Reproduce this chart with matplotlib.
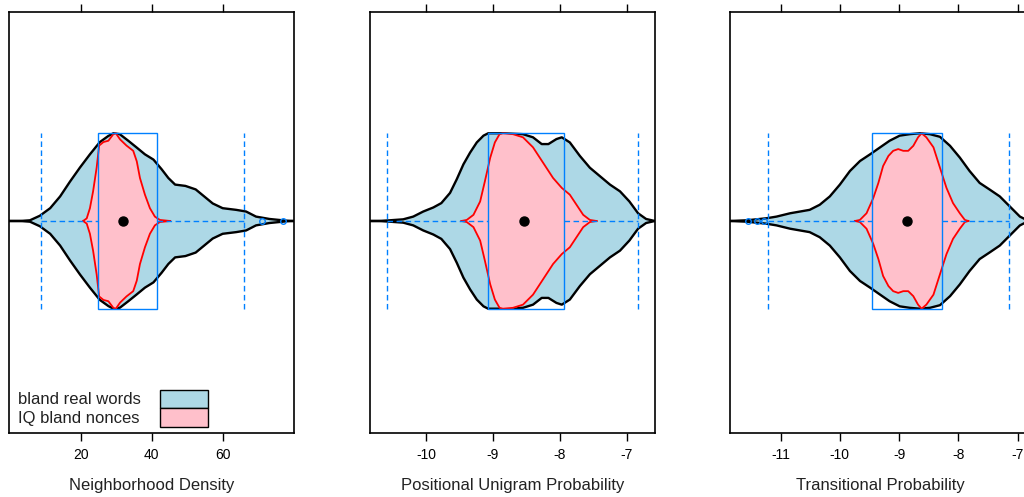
import matplotlib
matplotlib.use("Agg")
import matplotlib.pyplot as plt
from matplotlib.patches import Rectangle

plt.rcParams['font.family'] = ['Liberation Sans', 'DejaVu Sans']
plt.rcParams['axes.unicode_minus'] = False

# ---------------- data ----------------
panel_labels = ["Neighborhood Density", "Positional Unigram Probability", "Transitional Probability"]
legend_labels = ["bland real words", "IQ bland nonces"]

# Panel 1: Neighborhood Density -- relative violin half-widths (max = 1)
nd_real_x = [-0.2, 2.9, 5.7, 8.5, 11.4, 14.2, 17.0, 19.8, 22.6, 25.4, 27.8, 29.2, 31.0, 33.4,
             35.7, 38.1, 40.5, 42.8, 44.7, 46.6, 49.5, 52.4, 54.8, 57.2, 60.0, 63.8, 66.6,
             69.4, 73.2, 77.9, 80.1]
nd_real_d = [0.0, 0.0, 0.008, 0.06, 0.146, 0.28, 0.45, 0.61, 0.76, 0.90, 0.97, 1.0, 0.99, 0.915,
             0.84, 0.76, 0.70, 0.59, 0.49, 0.415, 0.40, 0.36, 0.28, 0.20, 0.146, 0.127, 0.108,
             0.05, 0.023, 0.004, 0.0]
nd_nonce_x = [20.7, 21.7, 22.6, 23.5, 24.5, 25.2, 26.4, 27.8, 29.2, 29.9, 31.1, 32.9, 34.8,
              35.8, 36.7, 38.1, 39.5, 40.9, 42.3, 45.2]
nd_nonce_d = [0.0, 0.03, 0.146, 0.34, 0.61, 0.86, 0.90, 0.915, 0.99, 1.0, 0.93, 0.86, 0.80,
              0.68, 0.49, 0.30, 0.146, 0.05, 0.012, 0.0]
nd_box = [24.8, 31.8, 41.4]          # lower hinge, median, upper hinge
nd_whiskers = [8.8, 66.1]
nd_outliers = [71.0, 77.1]

# Panel 2: Positional Unigram Probability
pu_real_x = [-10.84, -10.71, -10.54, -10.34, -10.19, -10.04, -9.89, -9.77, -9.64, -9.54, -9.44,
             -9.34, -9.24, -9.14, -9.07, -8.85, -8.55, -8.40, -8.27, -8.17, -8.05, -7.97,
             -7.85, -7.70, -7.55, -7.40, -7.25, -7.10, -6.96, -6.83, -6.71, -6.58]
pu_real_d = [0.0, 0.0, 0.008, 0.019, 0.05, 0.108, 0.154, 0.204, 0.32, 0.475, 0.646,
             0.78, 0.896, 0.973, 1.0, 1.0, 0.99, 0.954, 0.877, 0.877, 0.934, 0.954,
             0.896, 0.742, 0.607, 0.511, 0.415, 0.338, 0.223, 0.088, 0.023, 0.0]
pu_nonce_x = [-9.47, -9.39, -9.29, -9.19, -9.12, -9.04, -8.97, -8.90, -8.85, -8.70, -8.55,
              -8.40, -8.25, -8.10, -7.97, -7.85, -7.75, -7.65, -7.55, -7.45]
pu_nonce_d = [0.0, 0.012, 0.07, 0.223, 0.45, 0.72, 0.896, 0.99, 1.0, 0.99, 0.954,
              0.84, 0.665, 0.49, 0.377, 0.30, 0.185, 0.07, 0.012, 0.0]
pu_box = [-9.07, -8.53, -7.94]
pu_whiskers = [-10.58, -6.83]
pu_outliers = []

# Panel 3: Transitional Probability
tp_real_x = [-11.86, -11.57, -11.24, -11.07, -10.84, -10.51, -10.34, -10.17, -10.0, -9.83,
             -9.66, -9.49, -9.32, -9.16, -8.99, -8.82, -8.65, -8.48, -8.31, -8.14, -7.975,
             -7.81, -7.64, -7.47, -7.30, -7.13, -6.96, -6.88, -6.84, -6.70]
tp_real_d = [0.0, 0.008, 0.031, 0.05, 0.088, 0.127, 0.185, 0.28, 0.415, 0.57,
             0.684, 0.76, 0.84, 0.915, 0.973, 0.99, 1.0, 0.99, 0.96, 0.857, 0.723,
             0.57, 0.434, 0.358, 0.28, 0.165, 0.05, 0.023, 0.0, 0.0]
tp_nonce_x = [-9.746, -9.662, -9.55, -9.437, -9.35, -9.27, -9.18, -9.10, -9.015, -8.93,
              -8.846, -8.76, -8.68, -8.62, -8.54, -8.42, -8.31, -8.20, -8.09, -7.975,
              -7.89, -7.83]
tp_nonce_d = [0.0, 0.012, 0.088, 0.26, 0.434, 0.627, 0.742, 0.80, 0.82, 0.80,
              0.80, 0.857, 0.954, 1.0, 0.954, 0.84, 0.607, 0.377, 0.204, 0.088,
              0.012, 0.0]
tp_box = [-9.464, -8.86, -8.28]
tp_whiskers = [-11.22, -7.146]
tp_outliers = [-11.55, -11.40, -11.28]

tick_values = [[20, 40, 60], [-10, -9, -8, -7], [-11, -10, -9, -8, -7]]
tick_labels = [["20", "40", "60"], ["-10", "-9", "-8", "-7"], ["-11", "-10", "-9", "-8", "-7"]]
xlims = [(-0.2, 80.1), (-10.836, -6.577), (-11.855, -6.79)]

# ---------------- styling ----------------
REAL_FILL = "#ADD8E6"
NONCE_FILL = "#FFC0CB"
BOX_COL = "#0080FF"
W = 1024.0
H = 497.0

panels = [
    (nd_real_x, nd_real_d, nd_nonce_x, nd_nonce_d, nd_box, nd_whiskers, nd_outliers),
    (pu_real_x, pu_real_d, pu_nonce_x, pu_nonce_d, pu_box, pu_whiskers, pu_outliers),
    (tp_real_x, tp_real_d, tp_nonce_x, tp_nonce_d, tp_box, tp_whiskers, tp_outliers),
]
# axes boxes in pixels: left, width
ax_px = [(9, 285), (370, 285), (730, 300)]
top_px, bot_px = 12, 433

fig = plt.figure(figsize=(W / 100, H / 100), dpi=100)
half = 0.25

for i, (rx, rd, nx, ndd, box, wh, outl) in enumerate(panels):
    l, w = ax_px[i]
    ax = fig.add_axes([l / W, (H - bot_px) / H, w / W, (bot_px - top_px) / H])
    ax.set_xlim(*xlims[i])
    ax.set_ylim(-0.6043, 0.5957)

    rh = [half * v for v in rd]
    ax.fill_between(rx, [-v for v in rh], rh, color=REAL_FILL, lw=0, zorder=1)
    ax.plot(rx, rh, color="black", lw=1.7, zorder=2, solid_joinstyle="round")
    ax.plot(rx, [-v for v in rh], color="black", lw=1.7, zorder=2, solid_joinstyle="round")

    nh = [half * v for v in ndd]
    ax.fill_between(nx, [-v for v in nh], nh, color=NONCE_FILL, lw=0, zorder=3)
    ax.plot(nx, nh, color="red", lw=1.3, zorder=4, solid_joinstyle="round")
    ax.plot(nx, [-v for v in nh], color="red", lw=1.3, zorder=4, solid_joinstyle="round")

    q1, med, q3 = box
    ax.add_patch(Rectangle((q1, -half), q3 - q1, 2 * half, fill=False,
                           edgecolor=BOX_COL, lw=1.0, zorder=5))
    ax.plot([wh[0], q1], [0, 0], color=BOX_COL, lw=1.0, dashes=(4, 2.5), zorder=5)
    ax.plot([q3, wh[1]], [0, 0], color=BOX_COL, lw=1.0, dashes=(4, 2.5), zorder=5)
    for xv in wh:
        ax.plot([xv, xv], [-half, half], color=BOX_COL, lw=1.0, dashes=(4, 2.5), zorder=5)
    if outl:
        ax.plot(outl, [0] * len(outl), "o", ms=4, mfc="none", mec=BOX_COL, mew=1.0, zorder=6)
    ax.plot([med], [0], "o", ms=6.5, color="black", zorder=7)

    ax.set_yticks([])
    ax.set_xticks(tick_values[i])
    ax.set_xticklabels(tick_labels[i])
    ax.tick_params(axis="x", top=True, labeltop=False, direction="out", length=6,
                   width=1.0, labelsize=10, pad=5, colors="black")
    for sp in ax.spines.values():
        sp.set_linewidth(1.2)
    ax.set_xlabel(panel_labels[i], fontsize=12, labelpad=11, color="#222222")

# legend inside first panel
fig.text(18 / W, 1 - 400 / H, legend_labels[0], fontsize=12, va="center", ha="left", color="#222222")
fig.text(18 / W, 1 - 418 / H, legend_labels[1], fontsize=12, va="center", ha="left", color="#222222")
fig.patches.append(Rectangle((160 / W, 1 - 408 / H), 48 / W, 18 / H, transform=fig.transFigure,
                             facecolor=REAL_FILL, edgecolor="black", lw=1.0, figure=fig))
fig.patches.append(Rectangle((160 / W, 1 - 426.5 / H), 48 / W, 18.5 / H, transform=fig.transFigure,
                             facecolor=NONCE_FILL, edgecolor="black", lw=1.0, figure=fig))

fig.savefig("out.png", dpi=100)
